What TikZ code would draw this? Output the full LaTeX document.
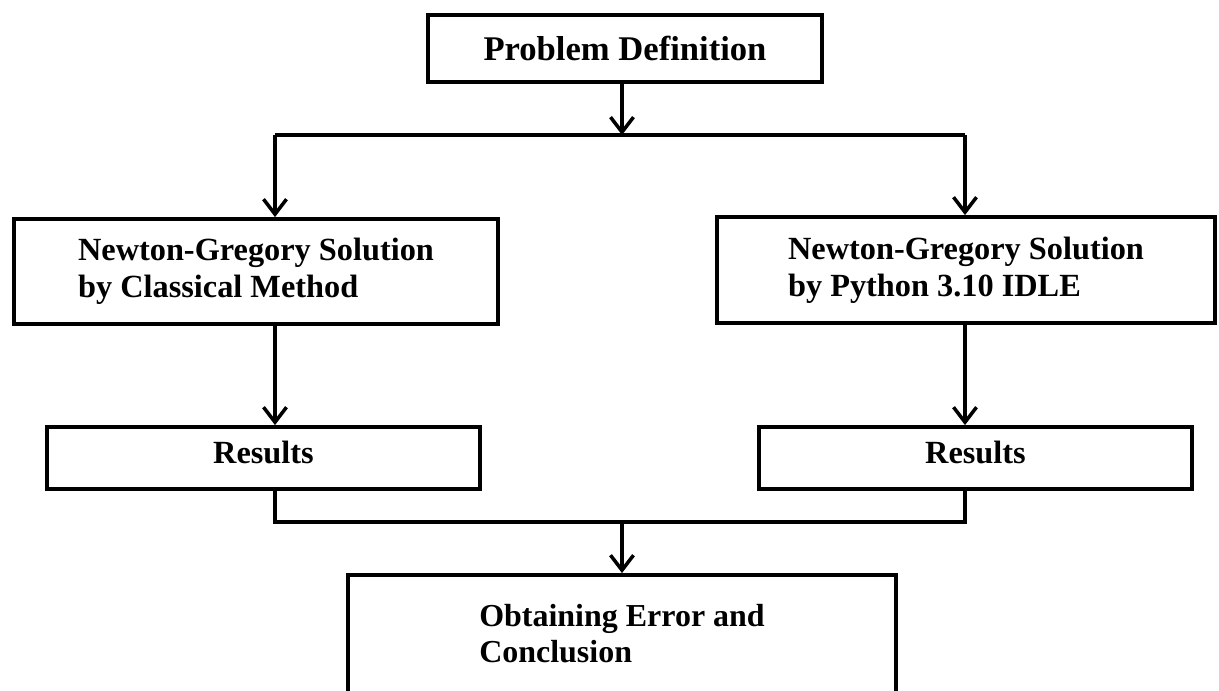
\documentclass[tikz,border=0pt]{standalone}
\usepackage{fontspec}
\setmainfont{Liberation Serif}
\usetikzlibrary{arrows.meta}
\begin{document}
\begin{tikzpicture}[line join=miter,>={Straight Barb[length=0.3cm,width=0.46cm]},x=0.02cm,y=-0.02cm,
  box/.style={draw,line width=2.2pt,align=left,inner sep=0pt,font=\bfseries\fontsize{18.4}{21}\selectfont},
  link/.style={line width=2pt}]
      \clip(0,0) rectangle (1219,690);
      \node[box,minimum width=7.88cm,minimum height=1.34cm,font=\bfseries\fontsize{19.7}{22}\selectfont] (pd) at (625,48.5) {Problem Definition};
      \node[box,minimum width=9.68cm,minimum height=2.1cm] (cls) at (256,271.5) {Newton-Gregory Solution\\by Classical Method};
      \node[box,minimum width=9.96cm,minimum height=2.12cm] (py) at (966,270) {Newton-Gregory Solution\\by Python 3.10 IDLE};
      \node[box,minimum width=8.66cm,minimum height=1.24cm,text depth=0.24cm] (resl) at (263.5,458) {Results};
      \node[box,minimum width=8.66cm,minimum height=1.24cm,text depth=0.24cm] (resr) at (975.5,458) {Results};
      \node[box,minimum width=10.96cm,minimum height=2.36cm,font=\bfseries\fontsize{18.2}{20.5}\selectfont] (concl) at (622,634) {Obtaining Error and\\Conclusion};
      \coordinate (split) at (622,135);
      \coordinate (lx) at (275,135);
      \coordinate (rx) at (965,135);
      \coordinate (join) at (622,522);
      \draw[link,->] (pd.south -| split) -- (split);
      \draw[link] (lx) -- (rx);
      \draw[link,->] (lx) -- (lx |- cls.north);
      \draw[link,->] (rx) -- (rx |- py.north);
      \draw[link,->] (cls.south -| lx) -- (resl.north -| lx);
      \draw[link,->] (py.south -| rx) -- (resr.north -| rx);
      \draw[link] (resl.south -| lx) |- (join) -| (resr.south -| rx);
      \draw[link,->] (join) -- (concl.north -| join);
\end{tikzpicture}
\end{document}
